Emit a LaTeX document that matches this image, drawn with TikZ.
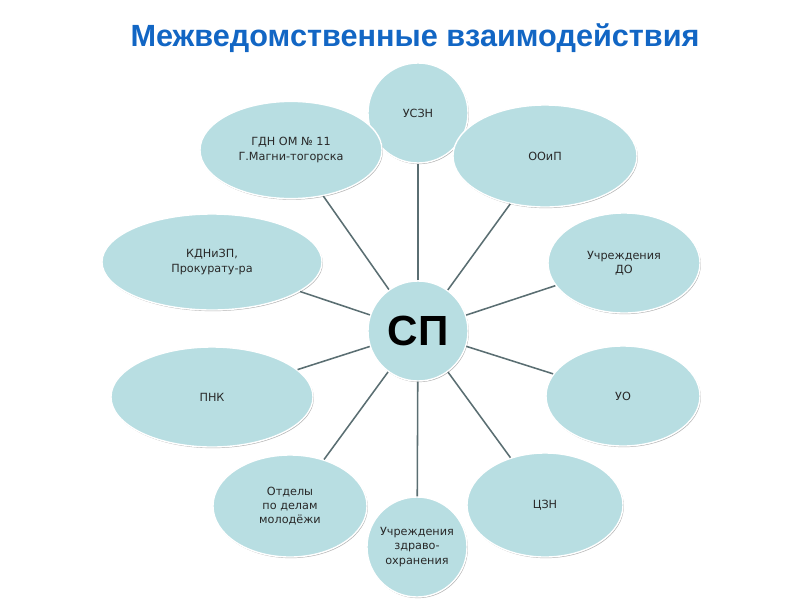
\documentclass[tikz,border=0pt]{standalone}
\usepackage{fontspec}
\setmainfont{DejaVu Sans}
\newfontfamily\headfont{Liberation Sans}
\usetikzlibrary{shapes.geometric,shadows}
\definecolor{bubble}{RGB}{184,222,226}
\definecolor{spokegray}{RGB}{90,110,114}
\definecolor{headblue}{RGB}{18,102,196}
\definecolor{ink}{RGB}{40,40,40}
\tikzset{%
     base/.style = {draw=white, line width=1pt, fill=bubble, text=ink,
                    inner sep=0pt, align=center,
                    font=\fontsize{8}{10}\selectfont,
                    drop shadow={shadow xshift=0.6pt, shadow yshift=-0.8pt,
                                 fill=black!60, opacity=0.5}},
     oval/.style = {base, ellipse, minimum height=2.5cm},
     ring/.style = {base, circle, minimum size=2.5cm},
  spokeln/.style = {draw=spokegray, line width=1.1pt},
}

\begin{document}
\begin{tikzpicture}[x=0.025cm, y=-0.025cm]
  \useasboundingbox (0,0) rectangle (800,600);

  \node (onTitle) at (415,38) [font=\headfont\bfseries\fontsize{21.8}{26}\selectfont,
                               text=headblue] {Межведомственные взаимодействия};

  \node (onSP)    at (418,331) [ring, text=black,
                                font=\headfont\bfseries\fontsize{30}{34}\selectfont] {СП};
  \node (onUSZN)  at (418,113) [ring]                                             {УСЗН};
  \node (onGDN)   at (291,150) [oval, minimum width=4.55cm, minimum height=2.43cm] {ГДН ОМ № 11\\Г.Магни-тогорска};
  \node (onOOiP)  at (545,156) [oval, minimum width=4.6cm,  minimum height=2.55cm] {ООиП};
  \node (onKDN)   at (212,262) [oval, minimum width=5.5cm,  minimum height=2.4cm]  {КДНиЗП,\\Прокурату-ра};
  \node (onDO)    at (624,263) [oval, minimum width=3.8cm]                          {Учреждения\\ДО};
  \node (onPNK)   at (212,397) [oval, minimum width=5.05cm]                         {ПНК};
  \node (onUO)    at (623,396) [oval, minimum width=3.85cm]                         {УО};
  \node (onMol)   at (290,506) [oval, minimum width=3.85cm, minimum height=2.55cm] {Отделы\\по делам\\молодёжи};
  \node (onZdrav) at (417,547) [ring]                                             {Учреждения\\здраво-\\охранения};
  \node (onCZN)   at (545,505) [oval, minimum width=3.9cm,  minimum height=2.6cm]  {ЦЗН};

  \draw[spokeln] (onSP) -- (onUSZN);
  \draw[spokeln] (onSP) -- (onGDN);
  \draw[spokeln] (onSP) -- (onOOiP);
  \draw[spokeln] (onSP) -- (onKDN);
  \draw[spokeln] (onSP) -- (onDO);
  \draw[spokeln] (onSP) -- (onPNK);
  \draw[spokeln] (onSP) -- (onUO);
  \draw[spokeln] (onSP) -- (onMol);
  \draw[spokeln] (onSP) -- (onZdrav);
  \draw[spokeln] (onSP) -- (onCZN);
\end{tikzpicture}
\end{document}
